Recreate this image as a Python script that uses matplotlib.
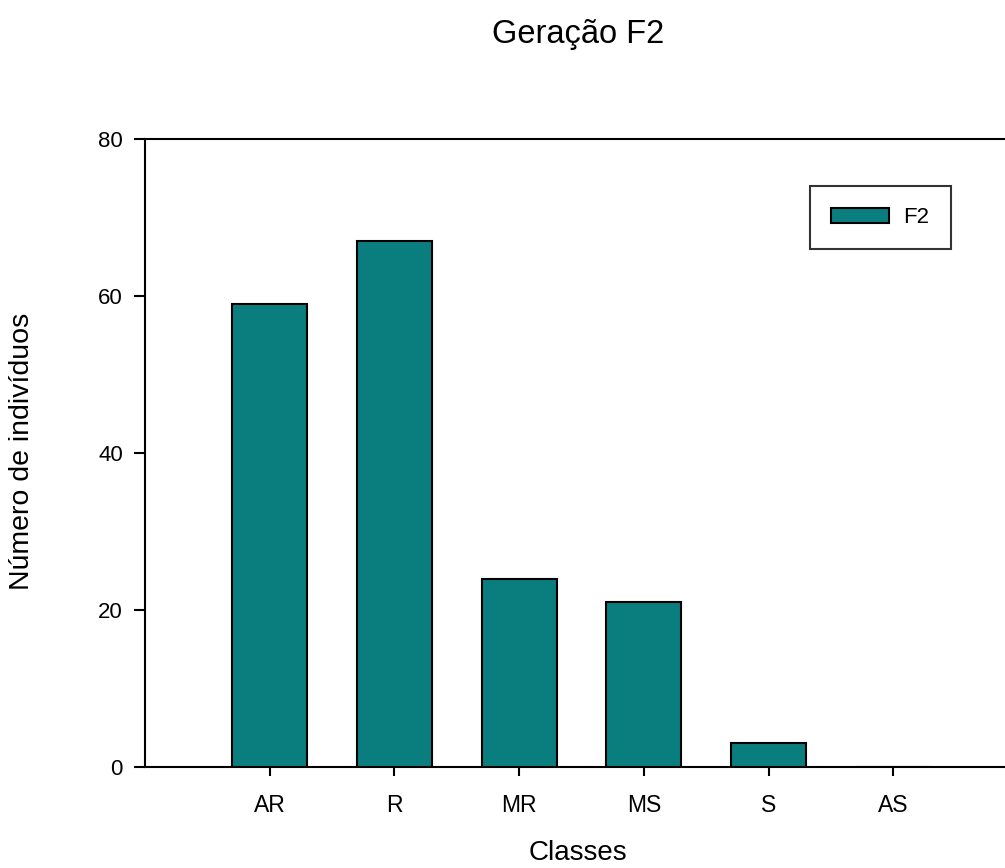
import matplotlib.pyplot as plt

plt.rcParams['font.family'] = ['Liberation Sans', 'DejaVu Sans']

# Data
classes = ['AR', 'R', 'MR', 'MS', 'S', 'AS']
counts = [59, 67, 24, 21, 3, 0]
series_name = 'F2'
y_ticks = [0, 20, 40, 60, 80]

fig = plt.figure(figsize=(10.05, 8.68), dpi=100)
# axes runs past the right edge of the figure, as in the original export
ax = fig.add_axes([0.1443, 0.1164, 0.8686, 0.7235])

x = list(range(len(classes)))
ax.bar(x, counts, width=0.6, color='#0A7E7E', edgecolor='black', linewidth=1.5,
       label=series_name, zorder=3)

ax.set_xlim(-1, 6)
ax.set_ylim(0, 80)
ax.set_xticks(x)
ax.set_xticklabels(classes)
ax.set_yticks(y_ticks)

for side in ['left', 'bottom', 'top']:
    ax.spines[side].set_linewidth(1.5)
ax.spines['right'].set_visible(False)

ax.tick_params(axis='y', direction='out', length=8, width=1.5, labelsize=16, pad=8)
ax.tick_params(axis='x', direction='out', length=6.5, width=1.5, labelsize=16.5, pad=13)

# titles placed in figure coords
fig.text(578 / 1005, 1 - 43 / 868, 'Geração F2', fontsize=23.5, ha='center', va='baseline')
fig.text(578 / 1005, 1 - 860 / 868, 'Classes', fontsize=20, ha='center', va='baseline')
fig.text(22 / 1005, 1 - 451 / 868, 'Número de indivíduos', fontsize=20.5, rotation=90,
         ha='center', va='center')

leg = ax.legend(loc='upper left', bbox_to_anchor=(0.762, 0.925), frameon=True, fancybox=False,
                fontsize=16, handlelength=2.6, handleheight=0.68, borderpad=0.95,
                handletextpad=0.65, borderaxespad=0)
leg.get_frame().set_edgecolor('black')
leg.get_frame().set_linewidth(1.5)

fig.savefig('out.png', dpi=100)
